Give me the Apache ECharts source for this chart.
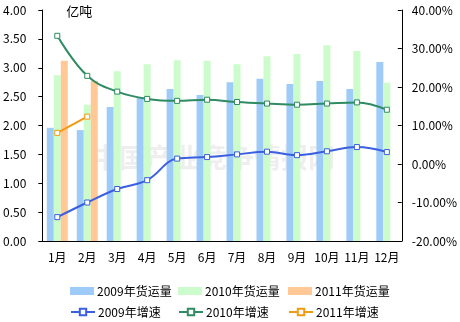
<!DOCTYPE html>
<html><head><meta charset="utf-8">
<script src="https://cdn.jsdelivr.net/npm/echarts@6/dist/echarts.min.js"></script>
<style>html,body{margin:0;padding:0;background:#fff}#c{width:460px;height:322px}</style>
</head><body><div id="c"></div>
<script>
var months = ['1月','2月','3月','4月','5月','6月','7月','8月','9月','10月','11月','12月'];
var vol2009 = [1.96,1.92,2.32,2.49,2.63,2.53,2.75,2.81,2.72,2.77,2.63,3.10];
var vol2010 = [2.87,2.36,2.94,3.06,3.13,3.12,3.06,3.20,3.24,3.39,3.29,2.74];
var vol2011 = [3.12,2.77];
var gr2009 = [-13.8,-10.0,-6.5,-4.2,1.4,1.8,2.5,3.2,2.3,3.3,4.4,3.1];
var gr2010 = [33.3,22.9,18.8,16.9,16.4,16.7,16.1,15.7,15.4,15.7,16.0,14.1];
var gr2011 = [8.1,12.3];
var names = ['2009年货运量','2010年货运量','2011年货运量','2009年增速','2010年增速','2011年增速'];

var font = '"Noto Sans CJK SC", "DejaVu Sans", sans-serif';
var cBar = ['#9ECBF7','#CCFBCC','#FFC895'];
var cLine = ['#3A5FE0','#2E8B62','#F29A12'];

var chart = echarts.init(document.getElementById('c'));
function lg(name, left, top, isLine){
  return {data:[name], left:left, top:top, itemWidth:24, itemHeight:8, itemGap:0,
    textStyle:{fontSize:12, color:'#000', fontFamily:font, padding:[0,0,0,-2]}, padding:0,
    icon: isLine ? undefined : 'rect'};
}
chart.setOption({
  animation:false,
  textStyle:{fontFamily:font},
  graphic:[{type:'text', left:92, top:144, z:0, silent:true,
    style:{text:'中国产业竞争情报网', fill:'rgba(150,150,150,0.16)', font:'bold 27px "Noto Sans CJK SC"'}}],
  legend:[lg(names[0],70,285,false),lg(names[1],178,285,false),lg(names[2],288,285,false),
          lg(names[3],70,306,true),lg(names[4],178,306,true),lg(names[5],288,306,true)],
  grid:{left:38,right:55,top:10,bottom:81},
  xAxis:{type:'category', data:months, boundaryGap:true,
    axisLine:{lineStyle:{color:'#000'}},
    axisTick:{inside:true, length:4, lineStyle:{color:'#000'}},
    axisLabel:{color:'#000', fontSize:12, margin:10, interval:0}},
  yAxis:[
    {type:'value', min:0, max:4, interval:0.5, name:'亿吨', nameLocation:'end', nameGap:-8,
     nameTextStyle:{color:'#000', fontSize:13, align:'left', padding:[0,0,0,24]},
     axisLine:{show:true, lineStyle:{color:'#000'}}, axisTick:{show:true, length:4, lineStyle:{color:'#000'}},
     splitLine:{show:false},
     axisLabel:{color:'#000', fontSize:12, margin:16, formatter:function(v){return v.toFixed(2);}}},
    {type:'value', min:-20, max:40, interval:10, position:'right',
     axisLine:{show:true, lineStyle:{color:'#000'}}, axisTick:{show:true, inside:true, length:4, lineStyle:{color:'#000'}},
     splitLine:{show:false},
     axisLabel:{color:'#000', fontSize:12, margin:10, formatter:function(v){return v.toFixed(2)+'%';}}}
  ],
  series:[
    {name:names[0], type:'bar', data:vol2009, barWidth:7, barGap:'0%', itemStyle:{color:cBar[0]}},
    {name:names[1], type:'bar', data:vol2010, barWidth:7, barGap:'0%', itemStyle:{color:cBar[1]}},
    {name:names[2], type:'bar', data:vol2011, barWidth:7, barGap:'0%', itemStyle:{color:cBar[2]}},
    {name:names[3], type:'line', yAxisIndex:1, data:gr2009, smooth:0.4, symbol:'rect', symbolSize:5,
     lineStyle:{color:cLine[0], width:2}, itemStyle:{color:'#fff', borderColor:cLine[0], borderWidth:1}, z:5},
    {name:names[4], type:'line', yAxisIndex:1, data:gr2010, smooth:0.4, symbol:'rect', symbolSize:5,
     lineStyle:{color:cLine[1], width:2}, itemStyle:{color:'#fff', borderColor:cLine[1], borderWidth:1}, z:5},
    {name:names[5], type:'line', yAxisIndex:1, data:gr2011, smooth:0.4, symbol:'rect', symbolSize:5,
     lineStyle:{color:cLine[2], width:2}, itemStyle:{color:'#fff', borderColor:cLine[2], borderWidth:1}, z:5}
  ]
});
</script></body></html>
